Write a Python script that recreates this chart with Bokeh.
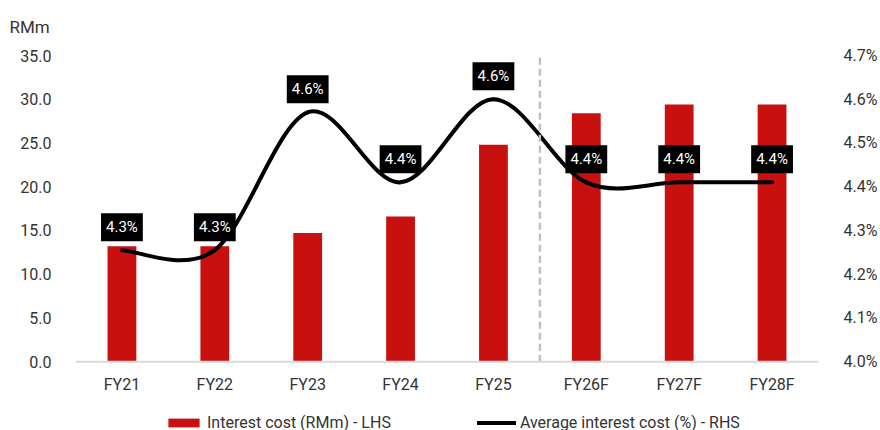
from bokeh.plotting import figure
from bokeh.models import (Range1d, LinearAxis, FixedTicker, Legend, LegendItem,
                          ColumnDataSource, Span, CustomJSTickFormatter)
from bokeh.embed import file_html
from bokeh.resources import INLINE
from bokeh.core.properties import value

# ---- data ----
years = ["FY21", "FY22", "FY23", "FY24", "FY25", "FY26F", "FY27F", "FY28F"]
interest_cost = [13.2, 13.2, 14.7, 16.6, 24.8, 28.4, 29.4, 29.4]      # RMm, LHS
avg_rate = [4.255, 4.255, 4.57, 4.41, 4.60, 4.41, 4.41, 4.41]          # %, RHS
left_ticks = [0, 5, 10, 15, 20, 25, 30, 35]
right_ticks = [4.0, 4.1, 4.2, 4.3, 4.4, 4.5, 4.6, 4.7]
forecast_split = 4.5

FONT = "Roboto"
TXT = "#333333"
RED = "#C8110E"

# plot area: value axes span 35 RMm / 0.7 pp over 307 px; the area carries on
# 69 px further down to hold category labels and legend
W, H = 880, 430
TOP, LEFT, RIGHT = 54, 75, 56
AXIS_PX = 307
EXTRA_PX = H - TOP - AXIS_PX
lo_left = -35 * EXTRA_PX / AXIS_PX
lo_right = 4.0 - 0.7 * EXTRA_PX / AXIS_PX

idx = list(range(len(years)))

p = figure(width=W, height=H, output_backend="svg", toolbar_location=None,
           x_range=Range1d(-0.5, len(years) - 0.5), y_range=Range1d(lo_left, 35),
           min_border_left=LEFT, min_border_right=RIGHT, min_border_top=TOP,
           min_border_bottom=0, x_axis_location=None)
p.outline_line_color = None
p.grid.grid_line_color = None
p.background_fill_color = "white"
p.border_fill_color = "white"
p.extra_y_ranges = {"pct": Range1d(lo_right, 4.7)}

# category baseline
p.add_layout(Span(location=0, dimension="width", line_color="#d9d9d9", line_width=2))

# bars
bars = p.vbar(x=idx, top=interest_cost, width=0.31, fill_color=RED,
              line_color=RED, line_width=0)

# smoothed rate line built from cubic segments through the data points
n = len(avg_rate)
def pt(i):
    i = max(0, min(n - 1, i))
    return i, avg_rate[i]
x0, y0, x1, y1, cx0, cy0, cx1, cy1 = [], [], [], [], [], [], [], []
for i in range(n - 1):
    pa, pb = pt(i - 1), pt(i)
    pc, pd = pt(i + 1), pt(i + 2)
    x0.append(pb[0]); y0.append(pb[1])
    x1.append(pc[0]); y1.append(pc[1])
    cx0.append(pb[0] + (pc[0] - pa[0]) / 6); cy0.append(pb[1] + (pc[1] - pa[1]) / 6)
    cx1.append(pc[0] - (pd[0] - pb[0]) / 6); cy1.append(pc[1] - (pd[1] - pb[1]) / 6)
rate_line = p.bezier(x0=x0, y0=y0, x1=x1, y1=y1, cx0=cx0, cy0=cy0, cx1=cx1, cy1=cy1,
                     line_color="black", line_width=4, line_cap="round",
                     y_range_name="pct")

# forecast divider
p.segment(x0=[forecast_split], y0=[0], x1=[forecast_split], y1=[35],
          line_color="#c0c0c0", line_width=2.5, line_dash="7 4")

# rate data labels
lbl_src = ColumnDataSource(dict(x=idx, y=avg_rate,
                                t=[f"{v:.1f}%" for v in avg_rate]))
p.text(x="x", y="y", text="t", source=lbl_src, y_range_name="pct",
       y_offset=-23, text_align="center", text_baseline="middle",
       text_color="white", text_font=value(FONT), text_font_size="15px",
       background_fill_color="black", padding=5)

# category labels under the baseline
p.text(x=idx, y=[0] * len(idx), text=years, y_offset=23, text_align="center",
       text_baseline="middle", text_color=TXT, text_font=value(FONT),
       text_font_size="16px")

# value axes
p.yaxis.ticker = FixedTicker(ticks=left_ticks)
p.yaxis.formatter = CustomJSTickFormatter(code="return tick.toFixed(1);")
ax_r = LinearAxis(y_range_name="pct", ticker=FixedTicker(ticks=right_ticks),
                  formatter=CustomJSTickFormatter(code="return tick.toFixed(1) + '%';"))
p.add_layout(ax_r, "right")
for ax, standoff in ((p.yaxis[0], 18), (ax_r, 19)):
    ax.axis_line_color = None
    ax.major_tick_line_color = None
    ax.minor_tick_line_color = None
    ax.major_label_standoff = standoff
    ax.major_label_text_font = FONT
    ax.major_label_text_font_size = "16px"
    ax.major_label_text_color = TXT

# unit caption
p.title.text = "RMm"
p.title.align = "left"
p.title.vertical_align = "top"
p.title.offset = -66
p.title.text_font = FONT
p.title.text_font_size = "17px"
p.title.text_font_style = "normal"
p.title.text_color = TXT
p.title.standoff = 33

legend = Legend(items=[LegendItem(label="Interest cost (RMm) - LHS", renderers=[bars]),
                       LegendItem(label="Average interest cost (%) - RHS", renderers=[rate_line])],
                orientation="horizontal", location=(89, -2),
                glyph_width=39, glyph_height=11, label_standoff=4, spacing=86,
                label_height=20, padding=0, margin=0, border_line_color=None,
                background_fill_alpha=0, label_text_font=FONT,
                label_text_font_size="16px", label_text_color=TXT)
p.add_layout(legend, "center")

open("out.html", "w").write(file_html(p, INLINE))
